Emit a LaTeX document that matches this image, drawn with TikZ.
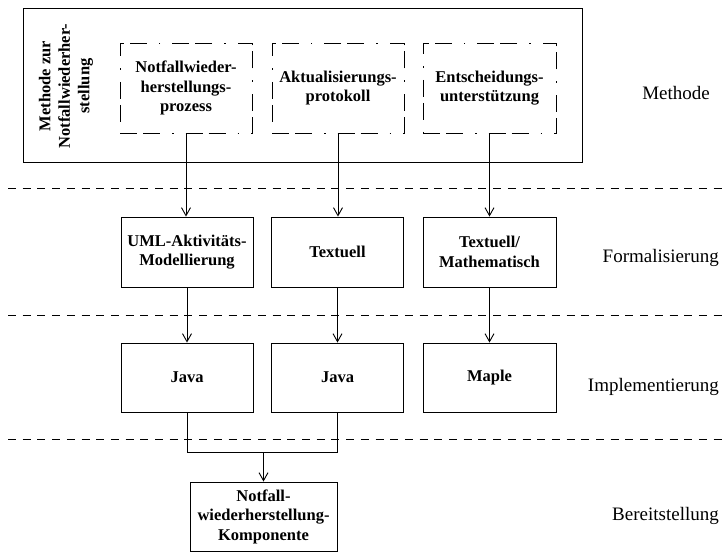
\documentclass[tikz,border=0pt]{standalone}
\usepackage{fontspec}
\setmainfont{Liberation Serif}
\usetikzlibrary{arrows.meta}
\begin{document}
\begin{tikzpicture}[x=1bp,y=-1bp,
  boxtext/.style={font=\fontsize{16.5bp}{19.5bp}\selectfont\bfseries, align=center, inner sep=0pt},
  solidbox/.style={boxtext, draw, line width=0.9bp, minimum width=132bp, minimum height=70bp},
  dashbox/.style={boxtext, draw, line width=0.9bp, minimum width=132bp, minimum height=90bp,
     dash pattern=on 17bp off 6bp on 17bp off 12bp on 1.5bp off 12bp},
  layerlabel/.style={font=\fontsize{19bp}{22bp}\selectfont, anchor=east, inner sep=0pt},
  sep/.style={dashed, dash pattern=on 8bp off 6.7bp, line width=0.9bp},
  conn/.style={line width=0.9bp, -{Straight Barb[length=8bp,width=9bp,line width=0.9bp]}},
  plain/.style={line width=0.9bp}]
\useasboundingbox (0,0) rectangle (723,552);
% outer method box
\node[draw, line width=0.9bp, minimum width=559bp, minimum height=154bp, inner sep=0pt] (outer) at (302.5,85) {};
\node[boxtext, rotate=90] (title) at (66,86) {Methode zur\\Notfallwiederher-\\stellung};
\node[dashbox] (m1) at (186,88) {Notfallwieder-\\herstellungs-\\prozess};
\node[dashbox] (m2) at (338,88) {Aktualisierungs-\\protokoll};
\node[dashbox, minimum width=133bp] (m3) at (489.5,88) {Entscheidungs-\\unterstützung};
% separators
\coordinate (s1l) at (8,188); \coordinate (s1r) at (723,188);
\coordinate (s2l) at (8,315); \coordinate (s2r) at (723,315);
\coordinate (s3l) at (8,439); \coordinate (s3r) at (723,439);
\draw[sep] (s1l) -- (s1r);
\draw[sep] (s2l) -- (s2r);
\draw[sep] (s3l) -- (s3r);
% formalisation
\node[solidbox] (f1) at (187,252) {UML-Aktivitäts-\\Modellierung};
\node[solidbox] (f2) at (337.5,252) {Textuell};
\node[solidbox, minimum width=133bp] (f3) at (489.5,252) {Textuell/\\Mathematisch};
% implementation
\node[solidbox, minimum height=69bp] (i1) at (187,377.5) {Java};
\node[solidbox, minimum height=69bp] (i2) at (337.5,377.5) {Java};
\node[solidbox, minimum height=69bp, minimum width=133bp] (i3) at (489.5,377.5) {Maple};
% deployment
\node[solidbox, minimum width=147bp, minimum height=69bp] (b) at (263.5,516.5) {Notfall-\\wiederherstellung-\\Komponente};
% connectors
\draw[conn] (m1.south) -- (m1.south |- f1.north);
\draw[conn] (m2.south) -- (m2.south |- f2.north);
\draw[conn] (m3.south) -- (m3.south |- f3.north);
\draw[conn] (f1.south) -- (i1.north);
\draw[conn] (f2.south) -- (i2.north);
\draw[conn] (f3.south) -- (i3.north);
\coordinate (j) at (263.5,452);
\draw[plain] (i1.south) -- (i1.south |- j) -- (i2.south |- j) -- (i2.south);
\draw[conn] (j) -- (b.north);
% layer labels
\node[layerlabel] (l1) at (710,93) {Methode};
\node[layerlabel] (l2) at (719,258) {Formalisierung};
\node[layerlabel] (l3) at (719,387) {Implementierung};
\node[layerlabel] (l4) at (719,516) {Bereitstellung};
\end{tikzpicture}
\end{document}
